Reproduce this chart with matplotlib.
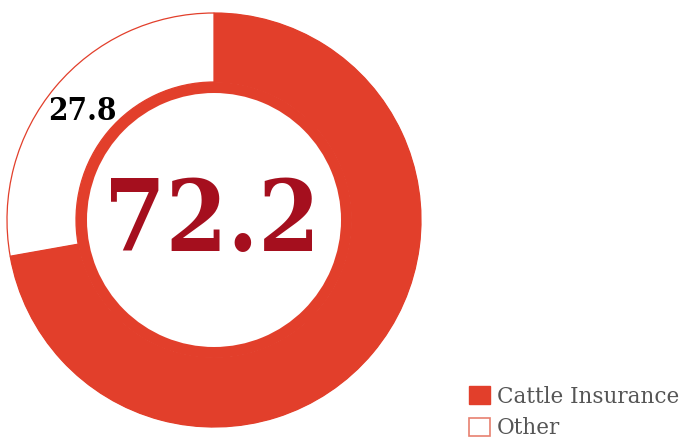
import matplotlib.pyplot as plt
from matplotlib.patches import Patch

# Share of the total (%)
labels = ["Cattle Insurance", "Other"]
values = [72.2, 27.8]

red = "#E23F2B"
dark_red = "#A50F1E"

fig = plt.figure(figsize=(6.83, 4.38), dpi=100)
ax = fig.add_axes([0, 0, 1, 1])

cx, cy = 214, 218

# Outer ring: cattle insurance filled, other left white with a thin red rim
ax.pie(values, colors=[red, "white"], startangle=90, counterclock=False,
       center=(cx, cy), radius=207, frame=True,
       wedgeprops=dict(width=69, edgecolor=red, linewidth=0.9))
# Re-fill the red wedge without an edge so only the white wedge shows the rim
ax.pie(values, colors=[red, "none"], startangle=90, counterclock=False,
       center=(cx, cy), radius=207, frame=True,
       wedgeprops=dict(width=69, linewidth=0))
# Thin inner band running all the way round
ax.pie([1], colors=[red], center=(cx, cy), radius=138, frame=True,
       wedgeprops=dict(width=11, linewidth=0))

ax.text(cx - 2, cy - 3, f"{values[0]:.1f}", ha="center", va="center",
        fontsize=71, fontweight="bold", fontstretch="condensed",
        color=dark_red, family="DejaVu Serif")
ax.text(82, 438 - 111, f"{values[1]:.1f}", ha="center", va="center",
        fontsize=22.5, fontweight="bold", fontstretch="condensed",
        color="black", family="DejaVu Serif")

ax.set_xlim(0, 683)
ax.set_ylim(0, 438)
ax.set_aspect("equal")
ax.axis("off")

handles = [Patch(facecolor=red, edgecolor=red),
           Patch(facecolor="white", edgecolor="#E8806F", linewidth=1.2)]
fig.legend(handles, labels, loc="lower right", bbox_to_anchor=(1.012, -0.03),
           frameon=False, handlelength=0.95, handleheight=0.95,
           handletextpad=0.35, labelspacing=0.45, borderaxespad=0.15,
           prop=dict(family="DejaVu Serif", size=15.5), labelcolor="#555555")

fig.savefig("out.png", dpi=100)
